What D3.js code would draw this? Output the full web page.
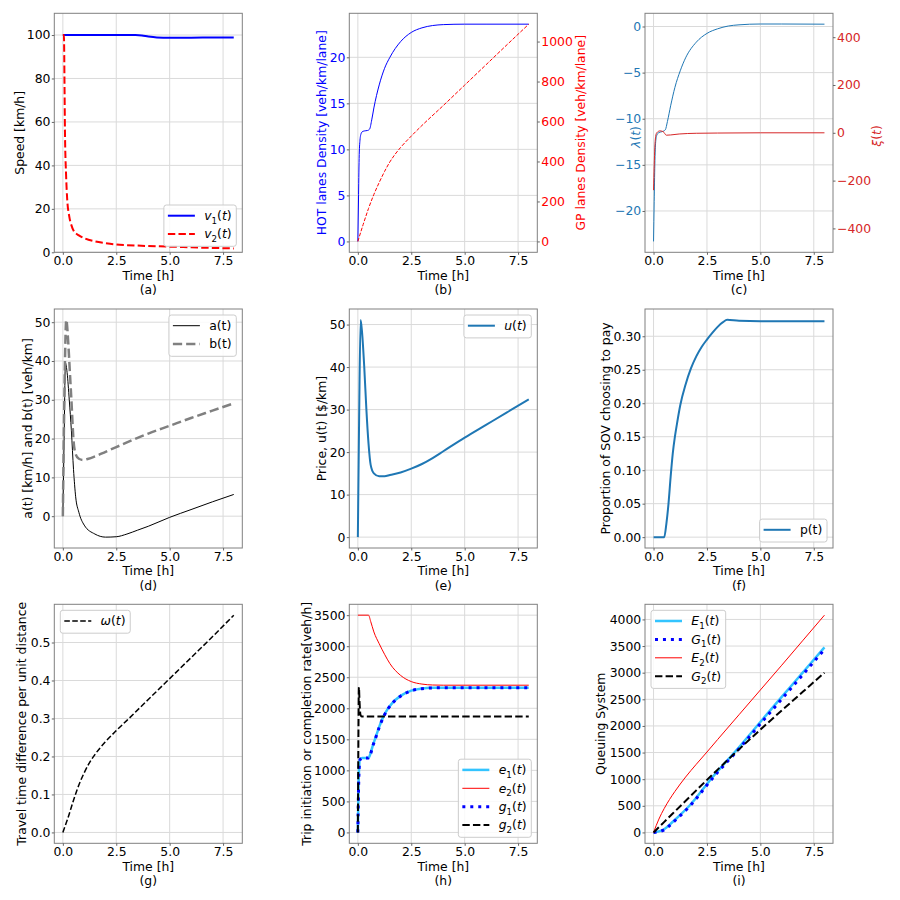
<!DOCTYPE html>
<html><head><meta charset="utf-8">
<script src="https://cdn.jsdelivr.net/npm/d3@7"></script>
<style>body{margin:0;background:#fff} svg text{font-family:"DejaVu Sans",sans-serif;}</style>
</head><body><svg id="chart" width="900" height="900"></svg>
<script>
// ---------------- DATA ----------------
const xTickVals = [0, 2.5, 5, 7.5];
// (a) speeds
const v1T = [0, 3.4, 3.7, 4.0, 4.4, 5, 6, 7, 8];
const v1  = [100, 100, 99.8, 99.3, 98.9, 98.8, 98.8, 98.85, 98.9];
const v2T = [0, 0.05, 0.08, 0.1, 0.15, 0.2, 0.3, 0.4, 0.5, 0.75, 1, 1.5, 2, 2.5, 3, 4, 5, 6, 7, 8];
const v2  = [100, 100, 75, 55, 36, 25, 16.5, 12.5, 10, 7.8, 6.5, 5, 4.2, 3.6, 3.3, 2.9, 2.6, 2.3, 2.0, 1.8];
const speedTicks = [0, 20, 40, 60, 80, 100];
// (b) densities
const hotT = [0, 0.03, 0.06, 0.1, 0.15, 0.2, 0.3, 0.45, 0.55, 0.65, 0.75, 1.0, 1.25, 1.5, 2.0, 2.5, 3.0, 3.5, 4.0, 5.0, 6, 8];
const hot  = [0, 4.5, 9, 11, 11.7, 11.9, 12.0, 12.05, 12.2, 13.2, 14.5, 17.0, 18.8, 20.0, 21.7, 22.7, 23.2, 23.45, 23.55, 23.6, 23.6, 23.6];
const gpT  = [0, 0.25, 0.5, 0.75, 1, 1.25, 1.5, 1.75, 2, 2.5, 3, 4, 5, 6, 7, 8];
const gp   = [0, 85, 165, 235, 295, 350, 398, 437, 470, 527, 580, 680, 782, 884, 986, 1087];
const hotTicks = [0, 5, 10, 15, 20];
const gpTicks = [0, 200, 400, 600, 800, 1000];
// (c) multipliers
const lamT = [0, 0.03, 0.06, 0.1, 0.15, 0.25, 0.4, 0.55, 0.65, 0.8, 1.0, 1.25, 1.5, 2.0, 2.5, 3.0, 3.5, 4, 5, 6, 8];
const lam  = [-23.3, -19, -15, -12.5, -11.8, -11.5, -11.4, -11.2, -10.3, -8.6, -6.6, -4.8, -3.4, -1.7, -0.75, -0.25, 0.05, 0.18, 0.27, 0.27, 0.25];
const xiT  = [0, 0.03, 0.06, 0.1, 0.15, 0.3, 0.45, 0.6, 0.8, 1.2, 2, 3, 5, 8];
const xi   = [-240, -140, -60, -15, 0, 8, 5, -10, -9, -5, -2, -1, 0, 0];
const lamTicks = [-20, -15, -10, -5, 0];
const xiTicks = [-400, -200, 0, 200, 400];
// (d) a(t), b(t)
const aT = [0, 0.06, 0.12, 0.2, 0.3, 0.4, 0.5, 0.6, 0.75, 1.0, 1.5, 2.0, 2.5, 3.0, 3.5, 4, 5, 6, 7, 8];
const aV = [0, 20, 39.5, 37, 30, 22, 12, 5, 1, -2.3, -4.6, -5.4, -5.3, -4.6, -3.6, -2.6, -0.3, 1.7, 3.7, 5.6];
const bT = [0, 0.07, 0.16, 0.25, 0.32, 0.4, 0.5, 0.6, 0.75, 0.95, 1.2, 1.5, 2, 2.5, 3, 3.5, 4, 5, 6, 7, 8];
const bV = [0, 30, 50.6, 45, 38, 30, 19.5, 16, 14.8, 14.5, 14.8, 15.4, 16.6, 17.8, 19, 20.2, 21.3, 23.3, 25.3, 27.2, 29.1];
const abTicks = [0, 10, 20, 30, 40, 50];
// (e) price
const uT = [0, 0.06, 0.13, 0.2, 0.3, 0.4, 0.5, 0.6, 0.75, 1.0, 1.25, 1.5, 2, 2.5, 3, 3.5, 4, 5, 6, 7, 8];
const uV = [0, 28, 51.1, 48, 40, 30, 22, 17, 15, 14.3, 14.3, 14.6, 15.2, 16.1, 17.2, 18.6, 20.2, 23.4, 26.4, 29.4, 32.4];
const uTicks = [0, 10, 20, 30, 40, 50];
// (f) proportion
const pT = [0, 0.5, 0.6, 0.7, 0.8, 0.9, 1.0, 1.1, 1.25, 1.5, 1.75, 2.0, 2.25, 2.5, 2.75, 3.0, 3.25, 3.45, 4, 5, 8];
const pV = [0, 0, 0.02, 0.05, 0.09, 0.125, 0.15, 0.17, 0.197, 0.228, 0.252, 0.27, 0.284, 0.295, 0.305, 0.314, 0.321, 0.3245, 0.323, 0.3224, 0.3224];
const pTicks = [0, 0.05, 0.10, 0.15, 0.20, 0.25, 0.30];
// (g) omega
const wT = [0, 0.25, 0.5, 0.75, 1.0, 1.25, 1.5, 2.0, 2.5, 3, 4, 5, 6, 7, 8];
const wV = [0, 0.04, 0.085, 0.125, 0.157, 0.184, 0.205, 0.239, 0.268, 0.295, 0.35, 0.405, 0.46, 0.515, 0.572];
const wTicks = [0, 0.1, 0.2, 0.3, 0.4, 0.5];
// (h) rates
const e1T = [0, 0.03, 0.06, 0.1, 0.2, 0.5, 0.6, 0.7, 0.8, 1.0, 1.2, 1.4, 1.6, 2.0, 2.5, 3.0, 3.5, 4, 8];
const e1  = [0, 700, 1050, 1180, 1200, 1200, 1280, 1400, 1500, 1700, 1870, 1990, 2080, 2200, 2285, 2318, 2330, 2332, 2332];
const e2T = [0, 0.5, 0.6, 0.75, 1.0, 1.25, 1.5, 2.0, 2.5, 3.0, 3.5, 4, 8];
const e2  = [3500, 3500, 3400, 3230, 3040, 2870, 2720, 2530, 2430, 2390, 2375, 2372, 2372];
const g1T = [0, 0.03, 0.06, 0.1, 0.2, 0.5, 0.6, 0.7, 0.8, 1.0, 1.2, 1.4, 1.6, 2.0, 2.5, 3.0, 3.5, 4, 8];
const g1  = [0, 650, 1020, 1170, 1200, 1200, 1270, 1390, 1490, 1690, 1860, 1985, 2075, 2195, 2282, 2316, 2329, 2331, 2331];
const g2T = [0, 0.02, 0.05, 0.08, 0.12, 0.18, 8];
const g2  = [0, 1200, 2340, 2100, 1900, 1868, 1868];
const rateTicks = [0, 500, 1000, 1500, 2000, 2500, 3000, 3500];
// (i) cumulative
const E1T = [0, 0.5, 0.9, 1.25, 1.7, 2.0, 2.5, 3.0, 3.25, 4.0, 5.0, 6.0, 7.0, 8.0];
const E1  = [0, 60, 200, 330, 510, 650, 910, 1150, 1262, 1600, 2075, 2545, 3010, 3475];
const G1T = [0, 0.5, 0.9, 1.25, 1.7, 2.0, 2.5, 3.0, 3.25, 4.0, 5.0, 6.0, 7.0, 8.0];
const G1  = [0, 50, 185, 315, 495, 635, 890, 1130, 1240, 1570, 2040, 2505, 2970, 3435];
const E2T = [0, 0.25, 0.5, 0.75, 1.0, 1.5, 2.0, 2.5, 3, 4, 5, 6, 7, 8];
const E2  = [0, 250, 450, 620, 770, 1040, 1280, 1510, 1745, 2210, 2675, 3140, 3610, 4080];
const G2T = [0, 1, 2, 3, 4, 5, 6, 7, 8];
const G2  = [0, 395, 790, 1180, 1560, 1930, 2290, 2645, 3000];
const queueTicks = [0, 500, 1000, 1500, 2000, 2500, 3000, 3500, 4000];

// ---------------- LAYOUT / STYLE ----------------
const FS = 12.4;
const FONT = 'DejaVu Sans';
const BLUE = '#0000ff', RED = '#ff0000', TBLUE = '#1f77b4', TRED = '#d62728', LBLUE = '#33c4ff';
const colLeft = [54.3, 349.3, 645], rowTop = [13.3, 309, 604.3], W = 188, H = 239;
const svg = d3.select('#chart');
const zip = (t, v) => t.map((d, i) => [d, v[i]]);
const dashed = lw => `${3.7*lw},${1.6*lw}`;
const dotted = lw => `${1*lw},${1.65*lw}`;
const mv = (b, s) => [[b,'i'],[s,'s'],['(',''],['t','i'],[')','']];
const mf = b => [[b,'i'],['(',''],['t','i'],[')','']];
const plain = s => [[s,'']];

function rich(textSel, parts) {
  let shift = 0;
  parts.forEach(([s, st]) => {
    const ts = textSel.append('tspan').text(s);
    if (st.includes('i')) ts.attr('font-style', 'italic');
    if (st.includes('s')) { ts.attr('font-size', FS*0.7).attr('dy', 3.5 - shift); shift = 3.5; }
    else if (shift) { ts.attr('dy', -shift); shift = 0; }
  });
}

function styleAxis(sel, color) {
  sel.select('.domain').remove();
  sel.attr('font-size', FS).attr('font-family', FONT);
  sel.selectAll('.tick line').attr('stroke', '#666');
  sel.selectAll('.tick text').attr('fill', color);
}

function panel(o) {
  const L = colLeft[o.col], T = rowTop[o.row];
  const g = svg.append('g').attr('transform', `translate(${L},${T})`);
  const x = d3.scaleLinear([-0.4, 8.4], [0, W]);
  const y = d3.scaleLinear(o.yDomain, [H, 0]);
  const y2 = o.y2 ? d3.scaleLinear(o.y2.domain, [H, 0]) : null;
  // grid
  g.append('g').selectAll('line').data(xTickVals).join('line')
    .attr('x1', d => x(d)).attr('x2', d => x(d)).attr('y1', 0).attr('y2', H)
    .attr('stroke', '#dadada').attr('stroke-width', 1);
  g.append('g').selectAll('line').data(o.yTicks).join('line')
    .attr('y1', d => y(d)).attr('y2', d => y(d)).attr('x1', 0).attr('x2', W)
    .attr('stroke', '#dadada').attr('stroke-width', 1);
  // series
  o.series.forEach(s => {
    const ys = s.axis === 2 ? y2 : y;
    const line = d3.line().x(d => x(d[0])).y(d => ys(d[1])).curve(d3.curveMonotoneX);
    g.append('path').datum(zip(s.t, s.v)).attr('d', line)
      .attr('fill', 'none').attr('stroke', s.color).attr('stroke-width', s.lw)
      .attr('stroke-dasharray', s.dash || null);
  });
  // frame
  g.append('rect').attr('x', 0).attr('y', 0).attr('width', W).attr('height', H)
    .attr('fill', 'none').attr('stroke', '#808080').attr('stroke-width', 1);
  // axes
  const ax = g.append('g').attr('transform', `translate(0,${H})`)
    .call(d3.axisBottom(x).tickValues(xTickVals).tickFormat(d3.format('.1f')).tickSize(2.5).tickPadding(1.4));
  styleAxis(ax, '#000');
  const ay = g.append('g').call(d3.axisLeft(y).tickValues(o.yTicks).tickFormat(o.yFmt).tickSize(2.5).tickPadding(1.3));
  styleAxis(ay, o.yColor || '#000');
  if (o.y2) {
    const ay2 = g.append('g').attr('transform', `translate(${W},0)`)
      .call(d3.axisRight(y2).tickValues(o.y2.ticks).tickFormat(o.y2.fmt).tickSize(2.5).tickPadding(1.5));
    styleAxis(ay2, o.y2.color);
    const t2 = svg.append('text').attr('transform', `translate(${o.y2.labelX},${o.y2.labelY || (T + H/2)}) rotate(-90)`)
      .attr('text-anchor', 'middle').attr('dy', '0.33em').attr('font-size', FS).attr('fill', o.y2.color);
    rich(t2, o.y2.label);
  }
  // labels
  g.append('text').attr('x', W/2).attr('y', H + 27.3).attr('text-anchor', 'middle')
    .attr('font-size', FS).text('Time [h]');
  g.append('text').attr('x', W/2).attr('y', H + 41.8).attr('text-anchor', 'middle')
    .attr('font-size', FS).text(o.sub);
  const yl = svg.append('text').attr('transform', `translate(${o.yLabelX},${o.yLabelY || (T + H/2)}) rotate(-90)`)
    .attr('text-anchor', 'middle').attr('dy', '0.33em').attr('font-size', FS).attr('fill', o.yColor || '#000');
  rich(yl, o.yLabel);
  // legend
  if (o.legend) {
    const lg = g.append('g');
    const ents = o.legend.entries;
    const n = ents.length;
    const boxH = 18.4*n + 4.5;
    const texts = ents.map((e, i) => {
      const t = lg.append('text').attr('font-size', FS).attr('dy', '0.35em');
      rich(t, e.parts);
      return t;
    });
    const maxW = d3.max(texts, t => t.node().getComputedTextLength());
    const boxW = 40 + maxW + 5;
    const bx = o.legend.loc.includes('right') ? W - 6 - boxW : 6;
    const by = o.legend.loc.includes('upper') ? 6 : H - 6 - boxH;
    lg.insert('rect', ':first-child').attr('x', bx).attr('y', by).attr('width', boxW).attr('height', boxH)
      .attr('rx', 2.5).attr('fill', 'rgba(255,255,255,0.85)').attr('stroke', '#cccccc').attr('stroke-width', 1);
    ents.forEach((e, i) => {
      const cy = by + 10.7 + i*18.4;
      const s = o.series[e.s];
      lg.append('line').attr('x1', bx + 4).attr('x2', bx + 31).attr('y1', cy).attr('y2', cy)
        .attr('stroke', s.color).attr('stroke-width', s.lw).attr('stroke-dasharray', s.dash || null);
      texts[i].attr('x', bx + 40.3).attr('y', cy);
    });
  }
}

const fInt = d3.format('d');

panel({col:0, row:0, sub:'(a)', yDomain:[0,110], yTicks:speedTicks, yFmt:fInt,
  yLabel:plain('Speed [km/h]'), yLabelX:19.5,
  series:[{t:v1T, v:v1, color:BLUE, lw:2}, {t:v2T, v:v2, color:RED, lw:2, dash:dashed(2)}],
  legend:{loc:'lower right', entries:[{s:0, parts:mv('v','1')}, {s:1, parts:mv('v','2')}]}});

panel({col:1, row:0, sub:'(b)', yDomain:[-1.18,24.78], yTicks:hotTicks, yFmt:fInt, yColor:BLUE,
  yLabel:plain('HOT lanes Density [veh/km/lane]'), yLabelX:322.3,
  y2:{domain:[-54.4,1141.4], ticks:gpTicks, fmt:fInt, color:RED, label:plain('GP lanes Density [veh/km/lane]'), labelX:580.7},
  series:[{t:hotT, v:hot, color:BLUE, lw:1}, {t:gpT, v:gp, color:RED, lw:1, dash:dashed(1), axis:2}]});

panel({col:2, row:0, sub:'(c)', yDomain:[-24.48,1.43], yTicks:lamTicks, yFmt:fInt, yColor:TBLUE,
  yLabel:mf('λ'), yLabelX:635.7, yLabelY:137,
  y2:{domain:[-500,500], ticks:xiTicks, fmt:fInt, color:TRED, label:mf('ξ'), labelX:876.7, labelY:136},
  series:[{t:lamT, v:lam, color:TBLUE, lw:1}, {t:xiT, v:xi, color:TRED, lw:1, axis:2}]});

panel({col:0, row:1, sub:'(d)', yDomain:[-8.2,53.4], yTicks:abTicks, yFmt:fInt,
  yLabel:plain('a(t) [km/h] and b(t) [veh/km]'), yLabelX:27.7,
  series:[{t:aT, v:aV, color:'#000', lw:1}, {t:bT, v:bV, color:'#808080', lw:2.5, dash:dashed(2.5)}],
  legend:{loc:'upper right', entries:[{s:0, parts:plain('a(t)')}, {s:1, parts:plain('b(t)')}]}});

panel({col:1, row:1, sub:'(e)', yDomain:[-2.56,53.66], yTicks:uTicks, yFmt:fInt,
  yLabel:plain('Price, u(t) [$/km]'), yLabelX:322.3,
  series:[{t:uT, v:uV, color:TBLUE, lw:2}],
  legend:{loc:'upper right', entries:[{s:0, parts:mf('u')}]}});

panel({col:2, row:1, sub:'(f)', yDomain:[-0.0162,0.3407], yTicks:pTicks, yFmt:d3.format('.2f'),
  yLabel:plain('Proportion of SOV choosing to pay'), yLabelX:605.7,
  series:[{t:pT, v:pV, color:TBLUE, lw:2}],
  legend:{loc:'lower right', entries:[{s:0, parts:plain('p(t)')}]}});

panel({col:0, row:2, sub:'(g)', yDomain:[-0.0286,0.6006], yTicks:wTicks, yFmt:d3.format('.1f'),
  yLabel:plain('Travel time difference per unit distance'), yLabelX:22.3,
  series:[{t:wT, v:wV, color:'#000', lw:1.5, dash:dashed(1.5)}],
  legend:{loc:'upper left', entries:[{s:0, parts:mf('ω')}]}});

panel({col:1, row:2, sub:'(h)', yDomain:[-175,3675], yTicks:rateTicks, yFmt:fInt,
  yLabel:plain('Trip initiation or completion rate[veh/h]'), yLabelX:306.7,
  series:[{t:e1T, v:e1, color:LBLUE, lw:2.5}, {t:e2T, v:e2, color:RED, lw:1},
          {t:g1T, v:g1, color:BLUE, lw:3, dash:dotted(3)}, {t:g2T, v:g2, color:'#000', lw:2, dash:dashed(2)}],
  legend:{loc:'lower right', entries:[{s:0, parts:mv('e','1')}, {s:1, parts:mv('e','2')}, {s:2, parts:mv('g','1')}, {s:3, parts:mv('g','2')}]}});

panel({col:2, row:2, sub:'(i)', yDomain:[-204,4284], yTicks:queueTicks, yFmt:fInt,
  yLabel:plain('Queuing System'), yLabelX:601,
  series:[{t:E1T, v:E1, color:LBLUE, lw:2.5}, {t:G1T, v:G1, color:BLUE, lw:3, dash:dotted(3)},
          {t:E2T, v:E2, color:RED, lw:1}, {t:G2T, v:G2, color:'#000', lw:2, dash:dashed(2)}],
  legend:{loc:'upper left', entries:[{s:0, parts:mv('E','1')}, {s:1, parts:mv('G','1')}, {s:2, parts:mv('E','2')}, {s:3, parts:mv('G','2')}]}});
</script></body></html>
